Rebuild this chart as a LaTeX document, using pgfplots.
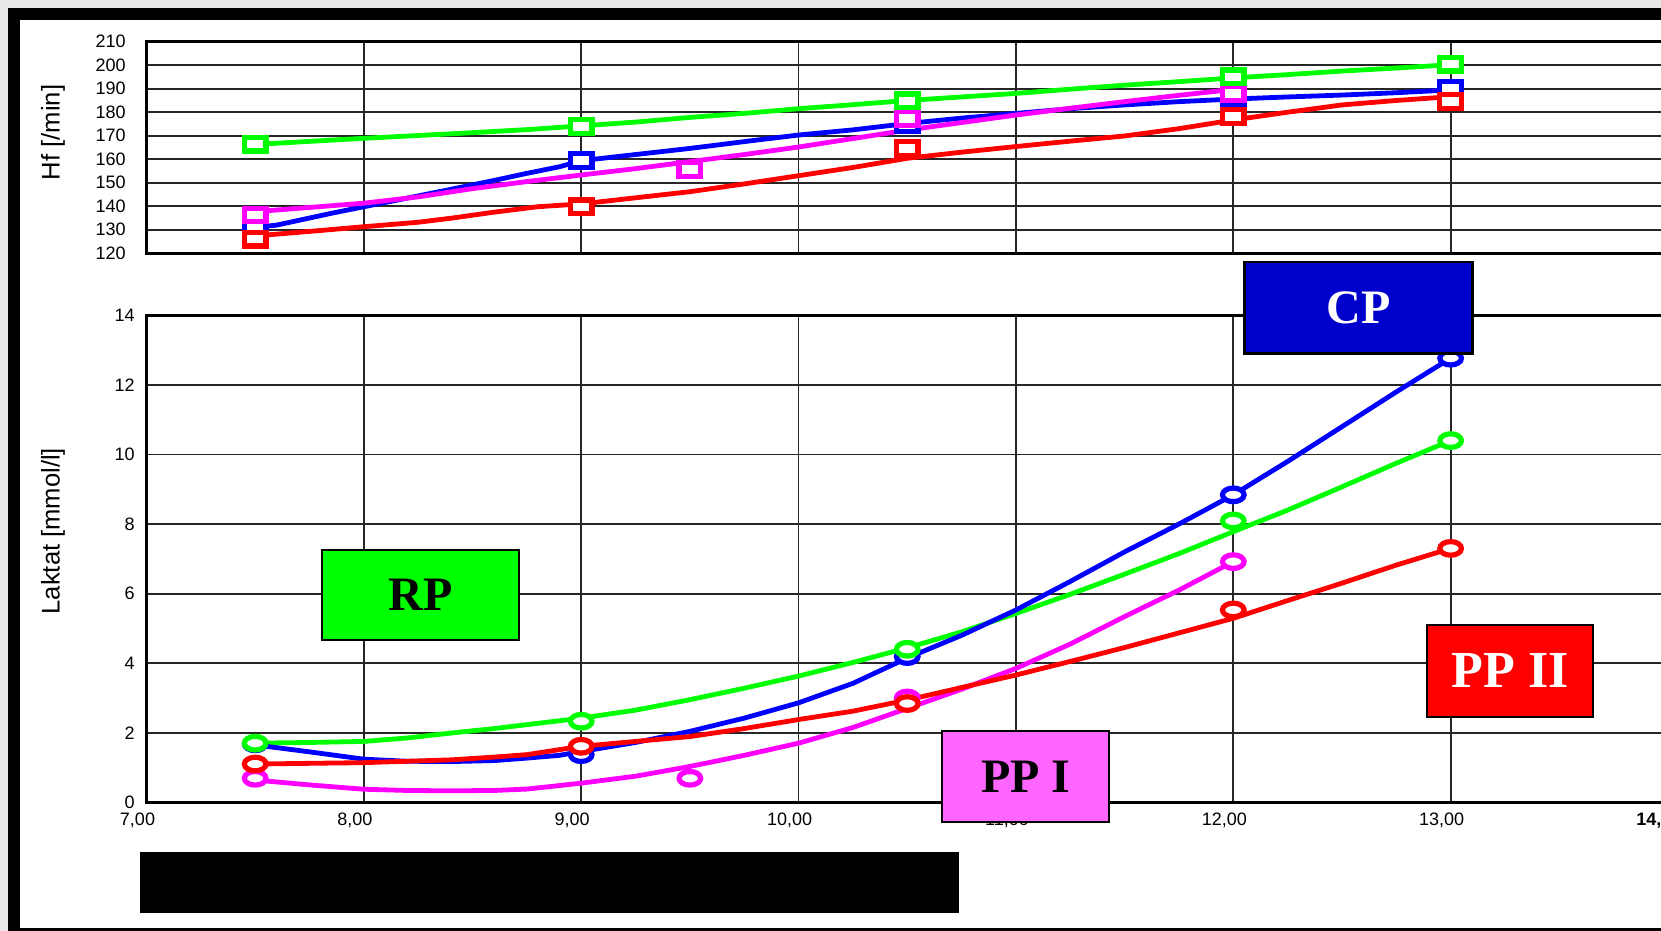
\documentclass[border=0pt]{standalone}
\usepackage{pgfplots}
\pgfplotsset{compat=1.18}
\usepackage{fontspec}
\setmainfont{Liberation Sans}
\newfontfamily\boxfont{Liberation Serif}
\definecolor{sblue}{RGB}{0,0,255}
\definecolor{sred}{RGB}{255,0,0}
\definecolor{smag}{RGB}{255,0,255}
\definecolor{sgreen}{RGB}{0,255,0}
\definecolor{cpblue}{RGB}{0,0,204}
\definecolor{rpgreen}{RGB}{0,255,0}
\definecolor{ppone}{RGB}{255,102,255}
\definecolor{pptwo}{RGB}{255,0,0}
\pgfplotsset{
  common/.style={
    scale only axis, width=760.75pt,
    xmin=7, xmax=14, xtick={7,8,...,14},
    xmajorgrids, ymajorgrids,
    major grid style={black!85, line width=0.9pt},
    axis line style={line width=1.5pt},
    major tick length=0pt,
    tick label style={font=\fontsize{9}{10}\selectfont},
    /pgf/number format/assume math mode=true,
    label style={font=\fontsize{12.8}{14}\selectfont},
    clip=true,
  },
  ln/.style={line width=2.4pt, line join=round, no markers},
  mk/.style={only marks, mark size=3.4pt, mark options={xscale=1.59, fill=white, line width=2.6pt, solid}},
}
\begin{document}
\begin{tikzpicture}
\useasboundingbox (0pt,0pt) rectangle (830.5pt,465.5pt);
\clip (0pt,0pt) rectangle (830.5pt,465.5pt);
\fill[gray!18] (0pt,0pt) rectangle (830.5pt,465.5pt);
\fill[black] (4pt,0pt) rectangle (850pt,461.5pt);
\fill[white] (10pt,1.5pt) rectangle (850pt,455.5pt);

% ---------- top: heart rate ----------
\begin{axis}[common,
  at={(73.25pt,338.85pt)}, anchor=south west, height=105.8pt,
  ymin=120, ymax=210, ytick={120,130,...,210},
  xticklabels={},
  yticklabel style={inner sep=0pt, xshift=-10.25pt},
  ylabel={Hf [/min]},
  ylabel style={at={(axis description cs:-0.0615,0.571)}, anchor=center},
]
\addplot[ln, sgreen] coordinates {(7.5,166.3)(7.75,167.6)(8,168.9)(8.25,170.1)(8.5,171.3)(8.75,172.6)(9,174.2)(9.25,175.8)(9.5,177.8)(9.75,179.5)(10,181.5)(10.25,183.2)(10.5,185)(10.75,186.5)(11,188)(11.25,189.8)(11.5,191.5)(11.75,193)(12,194.6)(12.25,196)(12.5,197.5)(12.75,198.8)(13,200.2)};
\addplot[ln, sblue] coordinates {(7.5,131)(7.6,132)(7.71,134.2)(7.85,137)(8,139.8)(8.2,143.5)(8.4,147.2)(8.6,151)(8.75,154)(8.9,156.8)(9,159.4)(9.25,162)(9.5,164.6)(9.75,167.5)(10,170.3)(10.25,172.5)(10.5,175.2)(10.75,177.5)(11,179.5)(11.25,181.5)(11.5,183.1)(11.75,184.5)(12,185.6)(12.25,186.5)(12.5,187.3)(12.75,188.3)(13,189.5)};
\addplot[ln, smag] coordinates {(7.5,137.7)(7.75,139.5)(8,141.3)(8.25,144)(8.5,147.5)(8.75,150.5)(9,153.3)(9.25,156)(9.5,159)(9.75,162)(10,165.2)(10.25,168.8)(10.5,172.4)(10.75,175.6)(11,178.8)(11.25,181.7)(11.5,184.5)(11.75,187.2)(12,189.7)};
\addplot[ln, sred] coordinates {(7.5,127.4)(7.75,129.3)(8,131.3)(8.25,133.2)(8.4,134.9)(8.6,137.5)(8.8,139.8)(9,141)(9.25,143.6)(9.5,146.2)(9.75,149.5)(10,153)(10.25,156.5)(10.5,160.4)(10.75,163)(11,165.4)(11.25,167.7)(11.5,169.9)(11.75,173)(12,176.7)(12.25,180)(12.5,183.1)(12.75,185)(13,186.6)};
\addplot[mk, sblue, mark=square*] coordinates {(7.5,130.5)(9,159.4)(10.5,174.6)(12,186)(13,190.2)};
\addplot[mk, smag, mark=square*] coordinates {(7.5,136.3)(9.5,155.7)(10.5,177.4)(12,188)};
\addplot[mk, sred, mark=square*] coordinates {(7.5,126)(9,139.8)(10.5,164.5)(12,178.1)(13,184.5)};
\addplot[mk, sgreen, mark=square*] coordinates {(7.5,166.4)(9,173.9)(10.5,184.9)(12,195.1)(13,200.4)};
\end{axis}

% ---------- bottom: lactate ----------
\begin{axis}[common,
  at={(73.25pt,64.35pt)}, anchor=south west, height=243.45pt,
  ymin=0, ymax=14, ytick={0,2,...,14},
  xticklabels={{7,00},{8,00},{9,00},{10,00},{11,00},{12,00},{13,00},{\textbf{14,00}}},
  xticklabel style={inner sep=0pt, anchor=north, yshift=-5pt, xshift=-4.5pt},
  yticklabel style={inner sep=0pt, xshift=-5.75pt},
  ylabel={Laktat [mmol/l]},
  ylabel style={at={(axis description cs:-0.0615,0.557)}, anchor=center},
]
\addplot[ln, sgreen] coordinates {(7.5,1.7)(7.75,1.72)(8,1.75)(8.2,1.85)(8.4,1.99)(8.6,2.12)(8.8,2.27)(9,2.42)(9.25,2.65)(9.5,2.95)(9.75,3.28)(10,3.63)(10.25,4.02)(10.5,4.44)(10.75,4.9)(11,5.43)(11.25,5.98)(11.5,6.56)(11.75,7.15)(12,7.78)(12.25,8.4)(12.5,9.07)(12.75,9.75)(13,10.4)};
\addplot[ln, sblue] coordinates {(7.5,1.65)(7.75,1.45)(8,1.24)(8.2,1.18)(8.4,1.17)(8.6,1.2)(8.75,1.27)(8.9,1.35)(9,1.46)(9.25,1.72)(9.5,2.04)(9.75,2.42)(10,2.86)(10.25,3.42)(10.5,4.15)(10.75,4.8)(11,5.53)(11.25,6.35)(11.5,7.2)(11.75,8)(12,8.84)(12.25,9.8)(12.5,10.8)(12.75,11.8)(13,12.77)};
\addplot[ln, smag] coordinates {(7.5,0.64)(7.75,0.5)(8,0.375)(8.2,0.34)(8.4,0.33)(8.6,0.34)(8.75,0.38)(9,0.55)(9.25,0.75)(9.5,1.03)(9.75,1.35)(10,1.7)(10.25,2.15)(10.5,2.7)(10.75,3.25)(11,3.85)(11.25,4.55)(11.5,5.34)(11.75,6.1)(12,6.92)};
\addplot[ln, sred] coordinates {(7.5,1.1)(7.75,1.12)(8,1.14)(8.2,1.18)(8.4,1.22)(8.6,1.3)(8.75,1.37)(9,1.61)(9.25,1.75)(9.5,1.89)(9.75,2.12)(10,2.38)(10.25,2.62)(10.5,2.94)(10.75,3.3)(11,3.66)(11.25,4.05)(11.5,4.45)(11.75,4.87)(12,5.29)(12.25,5.8)(12.5,6.3)(12.75,6.82)(13,7.3)};
\addplot[mk, sblue, mark=*] coordinates {(7.5,1.68)(9,1.37)(10.5,4.19)(12,8.84)(13,12.77)};
\addplot[mk, smag, mark=*] coordinates {(7.5,0.69)(9.5,0.69)(10.5,3.0)(12,6.92)};
\addplot[mk, sred, mark=*] coordinates {(7.5,1.1)(9,1.61)(10.5,2.84)(12,5.53)(13,7.3)};
\addplot[mk, sgreen, mark=*] coordinates {(7.5,1.7)(9,2.33)(10.5,4.4)(12,8.09)(13,10.4)};
\end{axis}

% ---------- labelled boxes ----------
\tikzset{lab/.style={draw=black, line width=1.1pt}}
\filldraw[lab, fill=cpblue] (622.25pt,288.75pt) rectangle (736.25pt,334.5pt);
\node[text=white, inner sep=0pt] at (679.25pt,311.6pt) {\boxfont\bfseries\fontsize{24}{26}\selectfont CP};
\filldraw[lab, fill=rpgreen] (161.15pt,145.5pt) rectangle (259.65pt,190.5pt);
\node[text=black, inner sep=0pt] at (210.4pt,168pt) {\boxfont\bfseries\fontsize{24}{26}\selectfont RP};
\filldraw[lab, fill=ppone] (471.15pt,54.35pt) rectangle (554.65pt,100pt);
\node[text=black, inner sep=0pt] at (512.9pt,77.2pt) {\boxfont\bfseries\fontsize{24}{26}\selectfont PP I};
\filldraw[lab, fill=pptwo] (713.35pt,107.15pt) rectangle (796.65pt,153pt);
\node[text=white, inner sep=0pt] at (755pt,130.1pt) {\boxfont\bfseries\fontsize{26}{28}\selectfont PP II};
\fill[black] (70pt,9pt) rectangle (479.5pt,39.5pt);
\end{tikzpicture}
\end{document}
